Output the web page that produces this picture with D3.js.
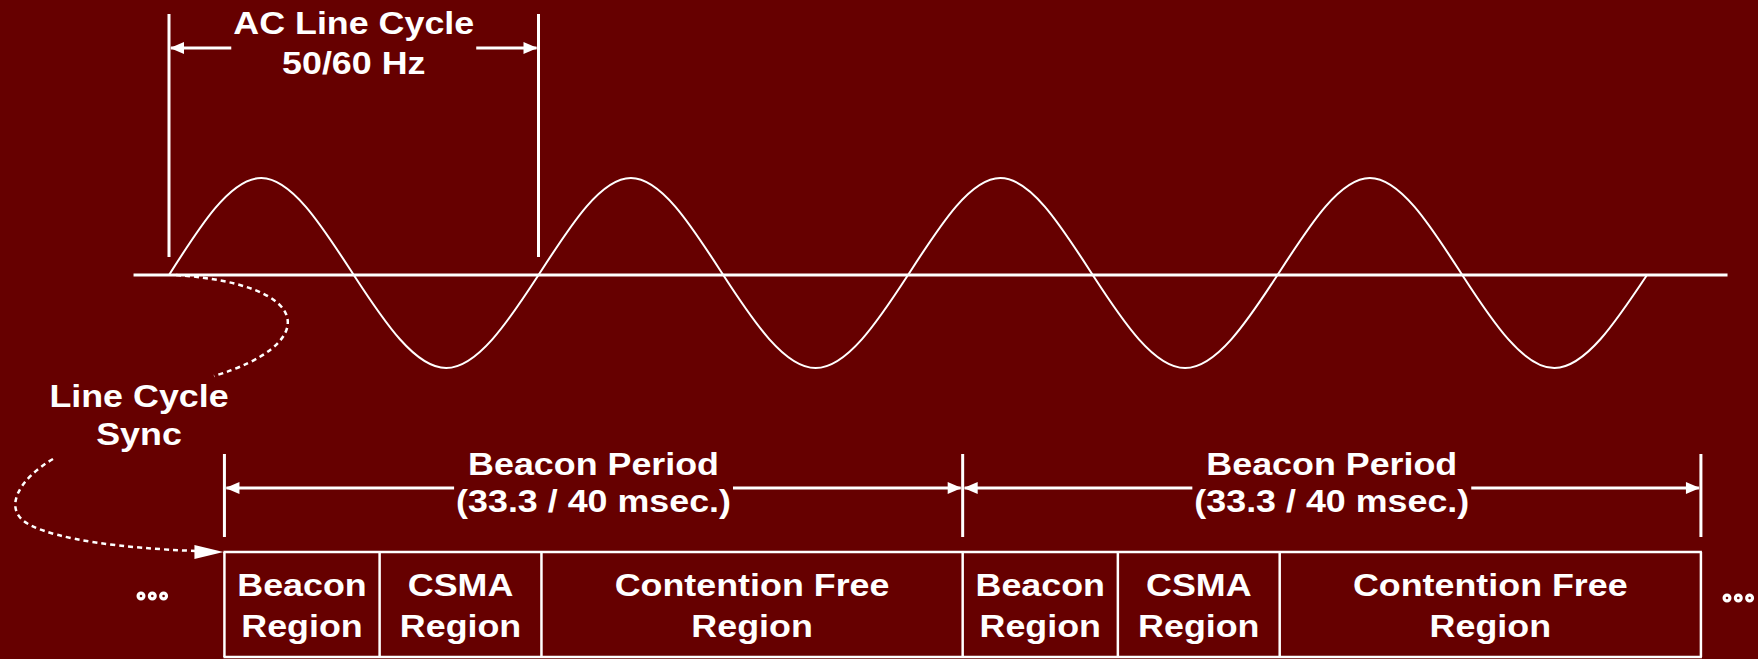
<!DOCTYPE html>
<html>
<head>
<meta charset="utf-8">
<script src="https://cdn.jsdelivr.net/npm/d3@7"></script>
<style>
  html, body { margin: 0; padding: 0; background: #660000; }
  svg { display: block; }
  text { font-family: "Liberation Sans", Arial, sans-serif; font-weight: bold; fill: #ffffff; }
</style>
</head>
<body>
<svg id="chart" width="1758" height="659"></svg>
<script>
// ---- data (times in msec, 60 Hz mains) ----
const lineCycleMs = 16.667;            // one AC line cycle
const sineLevels = [0, 1, 0, -1, 0, 1, 0, -1, 0, 1, 0, -1, 0, 1, 0, -1, 0]; // quarter-cycle samples, 4 cycles
const axisSpanMs = [-1.6, 70.3];
const beaconStartMs = 2.5;
const beaconPeriodMs = 33.3;
const beaconPeriods = 2;
const regionNames = [["Beacon", "Region"], ["CSMA", "Region"], ["Contention Free", "Region"]];
const regionMs = [7.0, 7.3, 19.0];
const acLabel = ["AC Line Cycle", "50/60 Hz"];
const periodLabel = ["Beacon Period", "(33.3 / 40 msec.)"];
const syncLabel = ["Line Cycle", "Sync"];
const ellipsisDots = [0, 1, 2];

// ---- layout ----
const W = 1758, H = 659;
const svg = d3.select("#chart");
const x = d3.scaleLinear().domain([0, lineCycleMs]).range([169, 538.5]);
const y = d3.scaleLinear().domain([-1, 1]).range([368, 178]);
const axisY = 275;
const WHITE = "#ffffff";
const SX = 1.12, FS = 32;

function label(str, cx, by) {
  return svg.append("text")
    .attr("transform", `translate(${cx},${by}) scale(${SX},1)`)
    .attr("text-anchor", "middle")
    .attr("font-size", FS)
    .text(str);
}
function arrowHead(tipX, tipY, dir, len = 14, hw = 6) {
  svg.append("path")
    .attr("d", `M${tipX},${tipY} L${tipX - dir * len},${tipY - hw} L${tipX - dir * len},${tipY + hw} Z`)
    .attr("fill", WHITE);
}
function hline(x1, x2, yy, w = 3) {
  svg.append("line").attr("x1", x1).attr("x2", x2).attr("y1", yy).attr("y2", yy)
    .attr("stroke", WHITE).attr("stroke-width", w);
}
function vline(xx, y1, y2, w = 3) {
  svg.append("line").attr("x1", xx).attr("x2", xx).attr("y1", y1).attr("y2", y2)
    .attr("stroke", WHITE).attr("stroke-width", w);
}
// dimension arrow: two segments from the edges to the label, heads outward
function dimension(x1, x2, yy, labels, baselines) {
  const cx = (x1 + x2) / 2;
  const texts = labels.map((s, i) => label(s, cx, baselines[i]));
  const half = d3.max(texts, t => t.node().getComputedTextLength() * SX / 2) + 2;
  hline(x1 + 2, cx - half, yy);
  hline(cx + half, x2 - 2, yy);
  arrowHead(x1 + 1, yy, -1);
  arrowHead(x2 - 1, yy, 1);
}

// ---- axis line ----
hline(x(axisSpanMs[0]), x(axisSpanMs[1]), axisY, 3);

// ---- sine wave (AC line) ----
const qStep = lineCycleMs / 4;
svg.append("path")
  .datum(sineLevels)
  .attr("d", d3.line().x((d, i) => x(i * qStep)).y(d => y(d) + (d === 0 ? axisY - y(0) : 0)).curve(d3.curveNatural))
  .attr("fill", "none").attr("stroke", WHITE).attr("stroke-width", 2);

// ---- AC line cycle dimension ----
vline(x(0), 14, 257);
vline(x(lineCycleMs), 14, 257);
dimension(x(0), x(lineCycleMs), 48, acLabel, [34, 74]);

// ---- beacon periods ----
const periodStarts = d3.range(beaconPeriods + 1).map(i => beaconStartMs + i * beaconPeriodMs);
periodStarts.forEach(t => vline(x(t), 454, 537));
for (let p = 0; p < beaconPeriods; p++) {
  dimension(x(periodStarts[p]), x(periodStarts[p + 1]), 488, periodLabel, [475, 512]);
}

// ---- regions (boxes) ----
const boxTop = 552, boxBottom = 657;
hline(x(periodStarts[0]) - 1, x(periodStarts[beaconPeriods]) + 1, boxTop, 2.5);
hline(x(periodStarts[0]) - 1, x(periodStarts[beaconPeriods]) + 1, boxBottom, 2.5);
for (let p = 0; p < beaconPeriods; p++) {
  let t0 = periodStarts[p];
  regionMs.forEach((dur, i) => {
    const xa = x(t0), xb = x(t0 + dur);
    vline(xa, boxTop, boxBottom, 2.5);
    const cx = (xa + xb) / 2;
    label(regionNames[i][0], cx, 596);
    label(regionNames[i][1], cx, 637);
    t0 += dur;
  });
}
vline(x(periodStarts[beaconPeriods]), boxTop, boxBottom, 2.5);

// ---- ellipsis marks ----
[[141, 596], [1727, 598]].forEach(([ex, ey]) => {
  svg.selectAll(null).data(ellipsisDots).enter().append("circle")
    .attr("cx", d => ex + d * 11.3).attr("cy", ey).attr("r", 2.9)
    .attr("fill", "none").attr("stroke", WHITE).attr("stroke-width", 3.2);
});

// ---- line cycle sync (dotted curves) ----
label(syncLabel[0], 139, 407);
label(syncLabel[1], 139, 445);
svg.append("path")
  .attr("d", "M176,275 C318,285 318,345 214,376")
  .attr("fill", "none").attr("stroke", WHITE).attr("stroke-width", 2.5).attr("stroke-dasharray", "5,4");
svg.append("path")
  .attr("d", "M53,459 C20,478 0,510 30,525 C60,540 120,548 196,551")
  .attr("fill", "none").attr("stroke", WHITE).attr("stroke-width", 2.5).attr("stroke-dasharray", "5,4");
arrowHead(x(beaconStartMs) - 1, 552, 1, 29, 7);
</script>
</body>
</html>
